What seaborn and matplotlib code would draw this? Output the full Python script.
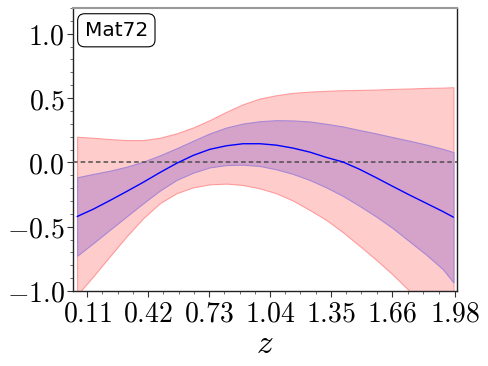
import numpy as np
import pandas as pd
import matplotlib
matplotlib.use("Agg")
import matplotlib.pyplot as plt
import seaborn as sns
from matplotlib.ticker import FixedLocator, FixedFormatter

sns.set_style("ticks")
plt.rcParams["mathtext.fontset"] = "cm"
plt.rcParams["font.family"] = ["DejaVu Sans"]
plt.rcParams["text.color"] = "black"
plt.rcParams["xtick.labelcolor"] = "black"
plt.rcParams["ytick.labelcolor"] = "black"
plt.rcParams["axes.labelcolor"] = "black"

# values
z = [0.059, 0.141, 0.225, 0.310, 0.395, 0.479, 0.564, 0.649, 0.733, 0.818, 0.903, 0.988,
     1.072, 1.157, 1.242, 1.326, 1.411, 1.496, 1.580, 1.665, 1.750, 1.835, 1.919, 1.973]
mean = [-0.421, -0.364, -0.297, -0.227, -0.155, -0.080, -0.008, 0.054, 0.101, 0.129, 0.145, 0.145,
        0.134, 0.111, 0.080, 0.039, 0.003, -0.054, -0.119, -0.187, -0.254, -0.318, -0.382, -0.426]
inner_lo = [-0.726, -0.628, -0.525, -0.421, -0.318, -0.220, -0.137, -0.080, -0.039, -0.021, -0.018, -0.028,
            -0.054, -0.090, -0.137, -0.194, -0.261, -0.339, -0.421, -0.512, -0.615, -0.718, -0.830, -0.933]
inner_hi = [-0.116, -0.090, -0.065, -0.034, 0.005, 0.054, 0.109, 0.168, 0.225, 0.271, 0.302, 0.320,
            0.328, 0.326, 0.318, 0.300, 0.279, 0.251, 0.225, 0.196, 0.168, 0.138, 0.105, 0.080]
outer_lo = [-1.031, -0.886, -0.731, -0.576, -0.434, -0.318, -0.240, -0.194, -0.171, -0.165, -0.176, -0.202,
            -0.240, -0.297, -0.370, -0.447, -0.543, -0.649, -0.757, -0.873, -1.000, -1.145, -1.300, -1.434]
outer_hi = [0.199, 0.191, 0.181, 0.173, 0.173, 0.191, 0.225, 0.271, 0.328, 0.393, 0.452, 0.496,
            0.522, 0.540, 0.550, 0.556, 0.561, 0.563, 0.566, 0.571, 0.574, 0.579, 0.581, 0.584]

xtick_vals = [0.11, 0.42, 0.73, 1.04, 1.35, 1.66, 1.98]
xtick_labels = ["0.11", "0.42", "0.73", "1.04", "1.35", "1.66", "1.98"]
ytick_vals = [-1.0, -0.5, 0.0, 0.5, 1.0]
ytick_labels = ["-1.0", "-0.5", "0.0", "0.5", "1.0"]
label_text = "Mat72"

df = pd.DataFrame({"z": z, "mean": mean})

fig = plt.figure(figsize=(4.88, 3.66), dpi=100)
ax = fig.add_axes([0.150, 0.205, 0.786, 0.773])

ax.fill_between(z, outer_lo, outer_hi, facecolor="#FFCCCC", edgecolor="#FF9A9A", linewidth=0.8, zorder=1)
ax.fill_between(z, inner_lo, inner_hi, facecolor="#D5A2CA", edgecolor="#A788D4", linewidth=0.8, zorder=2)
sns.lineplot(data=df, x="z", y="mean", color="blue", linewidth=1.0, ax=ax, zorder=4)
ax.axhline(0.0, color="#4d4d4d", linestyle=(0, (3, 2)), linewidth=1.1, zorder=3)

ax.set_xlim(0.039, 1.99)
ax.set_ylim(-1.0, 1.2)

ax.xaxis.set_major_locator(FixedLocator(xtick_vals))
ax.xaxis.set_major_formatter(FixedFormatter([f"${t}$" for t in xtick_labels]))
ax.yaxis.set_major_locator(FixedLocator(ytick_vals))
ax.yaxis.set_major_formatter(FixedFormatter([f"${t}$" for t in ytick_labels]))

xminor = []
for a, b in zip(xtick_vals[:-1], xtick_vals[1:]):
    xminor += list(np.linspace(a, b, 5)[1:-1])
ax.xaxis.set_minor_locator(FixedLocator(xminor))
ax.yaxis.set_minor_locator(FixedLocator(np.arange(-1.0, 1.21, 0.1)))

ax.tick_params(axis="both", which="major", labelsize=20, length=4, width=0.8, color="#333333",
               labelcolor="black", pad=2)
ax.tick_params(axis="both", which="minor", length=2.5, width=0.6, color="#555555")

ax.set_xlabel("$z$", fontsize=24, labelpad=0, color="black")
ax.set_ylabel("")

for side in ["left", "bottom", "right"]:
    ax.spines[side].set_color("#222222")
    ax.spines[side].set_linewidth(1.0)
ax.spines["top"].set_color("#999999")
ax.spines["top"].set_linewidth(1.5)

ax.text(0.03, 0.955, label_text, transform=ax.transAxes, fontsize=14.5, va="top", ha="left", color="black",
        bbox=dict(boxstyle="round,pad=0.35", facecolor="white", edgecolor="black", linewidth=0.8), zorder=6)

fig.savefig("out.png", dpi=100)
